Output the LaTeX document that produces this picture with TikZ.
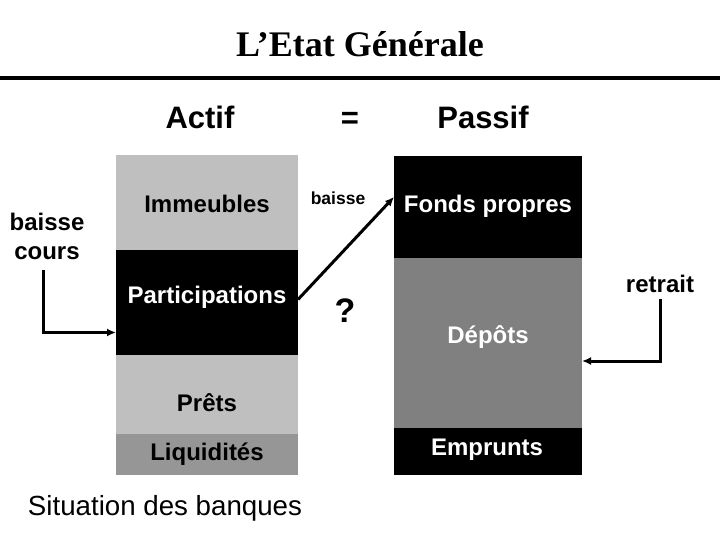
\documentclass[tikz,border=0pt]{standalone}
\usepackage{fontspec}
\setmainfont{Liberation Serif}
\setsansfont{Liberation Sans}
\usetikzlibrary{arrows.meta}
\colorlet{agray}{black!25}
\colorlet{lgray}{black!41}
\colorlet{dgray}{black!50}
\tikzset{
  abox/.style = {minimum width=182pt, inner sep=0pt, outer sep=0pt},
  pbox/.style = {minimum width=188pt, inner sep=0pt, outer sep=0pt},
  lbl/.style  = {anchor=base, inner sep=0pt, font=\sffamily\bfseries\fontsize{24}{29}\selectfont},
  head/.style = {anchor=base, inner sep=0pt, font=\sffamily\bfseries\fontsize{31}{36}\selectfont},
  conn/.style = {line width=3pt, ->}
}
\tikzset{>={Latex[length=9pt,width=8pt]}}

\begin{document}
\begin{tikzpicture}[x=1pt,y=-1pt]
  \useasboundingbox (0,0) rectangle (720,540);
  \node[anchor=base, inner sep=0pt, font=\bfseries\fontsize{36}{40}\selectfont] (titre) at (360,57) {L’Etat Générale};
  \draw[line width=4pt] (0,78) -- (720,78);
  \node[head] (actif)  at (200,129) {Actif};
  \node[head] (egal)   at (350,129) {=};
  \node[head] (passif) at (483,129) {Passif};
  %
  \node[abox, fill=agray, minimum height=95pt]  (imm)   at (207,202.5) {};
  \node[abox, fill=black, minimum height=105pt] (part)  at (207,302.5) {};
  \node[abox, fill=agray, minimum height=79pt]  (prets) at (207,394.5) {};
  \node[abox, fill=lgray, minimum height=41pt]  (liq)   at (207,454.5) {};
  \node[pbox, fill=black, minimum height=102pt] (fonds) at (488,207) {};
  \node[pbox, fill=dgray, minimum height=170pt] (dep)   at (488,343) {};
  \node[pbox, fill=black, minimum height=47pt]  (empr)  at (488,451.5) {};
  %
  \node[lbl]       (immtxt)   at (207,212) {Immeubles};
  \node[lbl,white] (parttxt)  at (207,303) {Participations};
  \node[lbl]       (pretstxt) at (207,411) {Prêts};
  \node[lbl]       (liqtxt)   at (207,460) {Liquidités};
  \node[lbl,white] (fondstxt) at (488,212) {Fonds propres};
  \node[lbl,white] (deptxt)   at (488,343) {Dépôts};
  \node[lbl,white] (emprtxt)  at (487,455) {Emprunts};
  %
  \node[lbl, anchor=center, align=center, inner sep=2pt] (cours) at (47,236) {baisse\\cours};
  \draw[conn, shorten <=8pt] ([xshift=-4pt]cours.south) |- ([yshift=-30pt]part.west);
  \node[lbl, font=\sffamily\bfseries\fontsize{17.5}{21}\selectfont] (baisse) at (338,205) {baisse};
  \draw[conn] ([yshift=3pt]part.east) -- ([yshift=10pt]fonds.west);
  \node[lbl, font=\sffamily\bfseries\fontsize{34}{40}\selectfont] (quest) at (345,322) {?};
  \node[lbl] (retrait) at (660,292) {retrait};
  \draw[conn, shorten <=7pt] (retrait.south) |- ([yshift=-18pt]dep.east);
  %
  \node[anchor=base, inner sep=0pt, font=\sffamily\fontsize{27.7}{32}\selectfont] (sit) at (165,515) {Situation des banques};
\end{tikzpicture}
\end{document}
